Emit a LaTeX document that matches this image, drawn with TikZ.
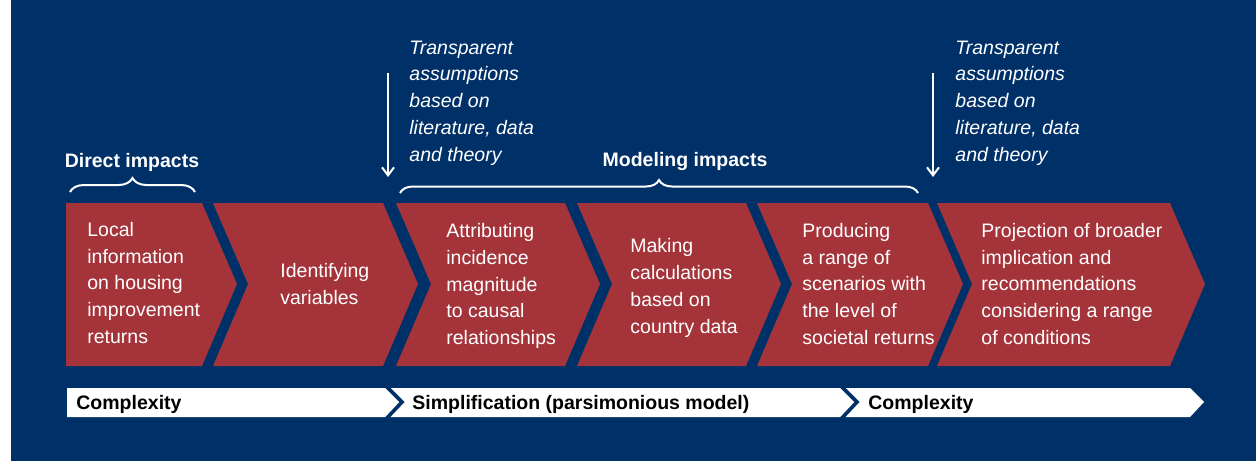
\documentclass[tikz,border=0pt]{standalone}
\usepackage{fontspec}
\setmainfont{Liberation Sans}
\usepackage{xcolor}
\usepackage{tikz}
\usetikzlibrary{arrows.meta}
\usetikzlibrary{decorations.pathreplacing, calc}

\definecolor{navyblue}{RGB}{0,48,104}
\definecolor{chevred}{RGB}{164,52,58}

\tikzset{
  steptext/.style={anchor=west, align=left, inner sep=0pt, text=white,
    font=\fontsize{9.75}{13.4}\selectfont},
  assumetext/.style={steptext, font=\fontsize{9.75}{13.4}\selectfont\itshape},
  headtext/.style={inner sep=0pt, text=white, font=\fontsize{9.75}{12}\selectfont\bfseries},
  bandtext/.style={anchor=west, inner sep=0pt, text=black, font=\fontsize{9.75}{12}\selectfont\bfseries},
  bracket/.style={draw=white, line width=1pt, decorate, decoration={brace, amplitude=#1}},
}

\begin{document}
\begin{tikzpicture}[x=0.5pt, y=-0.5pt]
  \useasboundingbox (0,0) rectangle (1256,461);
  \fill[white] (0,0) rectangle (1256,461);
  \fill[navyblue] (11,0) rectangle (1256,461);

  \fill[chevred] (66,203) -- (202,203) -- (237,284) -- (202,366) -- (66,366) -- cycle;
  \foreach \xa/\xb in {213/383, 396/565, 577/746, 757/928, 937/1170}
    \fill[chevred] (\xa,203) -- (\xb,203) -- (\xb+35,284) -- (\xb,366) -- (\xa,366) -- (\xa+35,284) -- cycle;

  \node[steptext] (local) at (87,283) {Local\\information\\on housing\\improvement\\returns};
  \node[steptext] (identify) at (280,284) {Identifying\\variables};
  \node[steptext] (attribute) at (446,286) {Attributing\\incidence\\magnitude\\to causal\\relationships};
  \node[steptext] (calc) at (630,288) {Making\\calculations\\based on\\country data};
  \node[steptext] (scenario) at (802,284) {Producing\\a range of\\scenarios with\\the level of\\societal returns};
  \node[steptext] (project) at (981,284) {Projection of broader\\implication and\\recommendations\\considering a range\\of conditions};

  \node[headtext] (direct) at (132,162) {Direct impacts};
  \node[headtext] (modeling) at (685,161) {Modeling impacts};
  \coordinate (direct west) at (70,192);
  \coordinate (direct east) at (195,192);
  \coordinate (modeling west) at (400,193);
  \coordinate (modeling east) at (918,193);
  \draw[bracket=7pt] (direct west) -- (direct east);
  \draw[bracket=6.5pt] (modeling west) -- (modeling east);

  \node[assumetext] (assumeA) at (409,103) {Transparent\\assumptions\\based on\\literature, data\\and theory};
  \node[assumetext] (assumeB) at (955,103) {Transparent\\assumptions\\based on\\literature, data\\and theory};
  \coordinate (arrowA top) at (388,73);
  \coordinate (arrowA end) at (388,177);
  \coordinate (arrowB top) at (933,73);
  \coordinate (arrowB end) at (933,177);
  \draw[white, line width=1pt, -{Straight Barb[length=4pt, width=6pt]}] (arrowA top) -- (arrowA end);
  \draw[white, line width=1pt, -{Straight Barb[length=4pt, width=6pt]}] (arrowB top) -- (arrowB end);

  \fill[white] (67,388) -- (1190,388) -- (1204,402) -- (1190,417) -- (67,417) -- cycle;
  \foreach \xs in {386, 841}
    \draw[navyblue, line width=1.8pt] (\xs,386) -- (\xs+16,402) -- (\xs,419);
  \node[bandtext] (complexA) at (76,404) {Complexity};
  \node[bandtext] (simple) at (412,404) {Simplification (parsimonious model)};
  \node[bandtext] (complexB) at (868,404) {Complexity};
\end{tikzpicture}
\end{document}
